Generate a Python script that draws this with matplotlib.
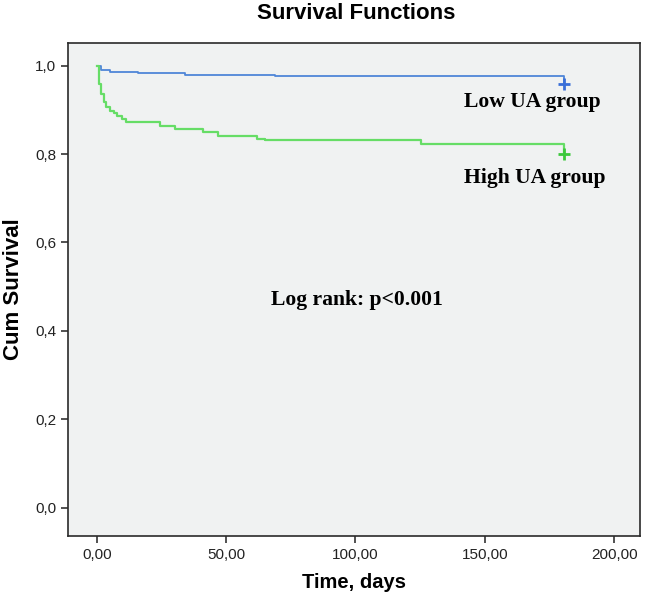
import matplotlib
matplotlib.use('Agg')
from matplotlib import pyplot as plt

# Kaplan-Meier curves (days, cumulative survival)
low_times = [0, 1.8, 5.0, 16.0, 34.0, 69.0, 180.5]
low_surv = [1.0, 0.990, 0.986, 0.983, 0.980, 0.977, 0.959]

high_times = [0, 0.9, 1.8, 2.7, 3.7, 5.0, 6.6, 7.9, 9.6, 11.3, 24.4, 30.2,
              40.9, 47.0, 62.0, 65.0, 125.2, 180.5]
high_surv = [1.0, 0.959, 0.936, 0.917, 0.906, 0.898, 0.894, 0.887, 0.880,
             0.873, 0.864, 0.857, 0.849, 0.842, 0.835, 0.831, 0.823, 0.800]

x_ticks = [0, 50, 100, 150, 200]
x_tick_labels = ['0,00', '50,00', '100,00', '150,00', '200,00']
y_ticks = [0.0, 0.2, 0.4, 0.6, 0.8, 1.0]
y_tick_labels = ['0,0', '0,2', '0,4', '0,6', '0,8', '1,0']

blue = '#4f86d8'
green = '#66dd66'

fig = plt.figure(figsize=(6.46, 6.0), dpi=100)
ax = fig.add_axes([0.105, 0.107, 0.886, 0.821])
ax.set_facecolor('#f0f2f2')

ax.step(low_times, low_surv, where='post', color=blue, lw=1.3)
ax.step(high_times, high_surv, where='post', color=green, lw=1.6)
ax.plot(low_times[-1], low_surv[-1], marker='+', color='#3a6fd8', ms=8, mew=2)
ax.plot(high_times[-1], high_surv[-1], marker='+', color='#3cc83c', ms=8, mew=2)

serif = {'family': 'Liberation Serif', 'weight': 'bold', 'size': 15.6}
ax.text(168.5, 0.917, 'Low UA group', ha='center', va='center', fontdict=serif)
ax.text(169.5, 0.746, 'High UA group', ha='center', va='center', fontdict=serif)
ax.text(67.5, 0.47, 'Log rank: p<0.001', ha='left', va='center', fontdict=serif)

ax.set_xlim(-11.2, 210.1)
ax.set_ylim(-0.064, 1.051)
ax.set_xticks(x_ticks)
ax.set_xticklabels(x_tick_labels)
ax.set_yticks(y_ticks)
ax.set_yticklabels(y_tick_labels)
ax.tick_params(axis='both', which='major', labelsize=11, length=5, width=1.2,
               color='#333333', labelcolor='#222222')
for lab in ax.get_xticklabels() + ax.get_yticklabels():
    lab.set_family('Liberation Sans')
for s in ax.spines.values():
    s.set_color('#2a2a2a')
    s.set_linewidth(1.2)

ax.set_xlabel('Time, days', fontsize=14.5, fontweight='bold', family='Liberation Sans', labelpad=8)
ax.set_ylabel('Cum Survival', fontsize=16, fontweight='bold', family='Liberation Sans', labelpad=8)
fig.suptitle('Survival Functions', x=0.552, y=0.995, fontsize=16, fontweight='bold', family='Liberation Sans')

fig.savefig('out.png', dpi=100)
